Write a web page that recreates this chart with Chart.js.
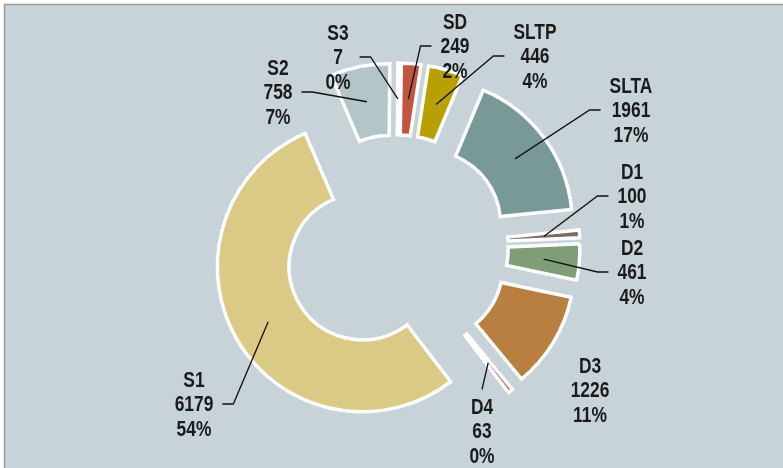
<!DOCTYPE html>
<html>
<head>
<meta charset="utf-8">
<script src="https://cdn.jsdelivr.net/npm/chart.js@4.4.1/dist/chart.umd.min.js"></script>
<style>
    html, body { margin: 0; padding: 0; background: #fff; }
    #wrap { width: 783px; height: 468px; position: relative; }
</style>
</head>
<body>
<div id="wrap"><canvas id="donut"></canvas></div>
<script>
(function () {
    "use strict";

    // data
    const categories = ["S1", "S2", "S3", "SD", "SLTP", "SLTA", "D1", "D2", "D3", "D4"];
    const counts = [6179, 758, 7, 249, 446, 1961, 100, 461, 1226, 63];
    const shares = ["54%", "7%", "0%", "2%", "4%", "17%", "1%", "4%", "11%", "0%"];

    const colors = ["#dbc986", "#b3c5c8", "#b3c5c8", "#c0563f", "#b8a000",
                    "#799999", "#7b6b63", "#7f9e78", "#b97f40", "#d86565"];

    // label block centre (middle line) and where the leader leaves it
    const labelSpots = [
        [194, 405, "right"], [278, 93, "right"], [338, 58, "right"], [455, 47, "left"],
        [535, 57, "left"], [631, 111, "left"], [632, 197, "left"], [632, 273, "left"],
        [590, 391, null], [482, 432, "top"]
    ];

    const EXPLODE = 39;
    const LINE = 24.5;
    const FONT = "bold 22px 'Liberation Sans', Arial, sans-serif";
    const NARROW = 0.79; // squeeze to look like a narrow face
    const PANEL = "#c7d2d9";

    const panelPlugin = {
        id: "panel",
        beforeDraw(chart) {
            const ctx = chart.ctx;
            ctx.save();
            ctx.fillStyle = "#fff";
            ctx.fillRect(0, 0, chart.width, chart.height);
            ctx.fillStyle = PANEL;
            ctx.fillRect(4, 4, chart.width, chart.height);
            ctx.strokeStyle = "#9c9c9c";
            ctx.lineWidth = 1.5;
            ctx.beginPath();
            ctx.moveTo(4.5, chart.height);
            ctx.lineTo(4.5, 4.5);
            ctx.lineTo(chart.width, 4.5);
            ctx.stroke();
            ctx.restore();
        }
    };

    // push every slice out along its own mid angle
    const explodePlugin = {
        id: "explode",
        afterUpdate(chart) {
            chart.getDatasetMeta(0).data.forEach(function (arc) {
                const mid = (arc.startAngle + arc.endAngle) / 2;
                arc.x += Math.cos(mid) * EXPLODE;
                arc.y += Math.sin(mid) * EXPLODE;
            });
        }
    };

    function narrowText(ctx, t, x, y) {
        ctx.save();
        ctx.translate(x, y);
        ctx.scale(NARROW, 1);
        ctx.fillText(t, 0, 0);
        ctx.restore();
    }

    const labelPlugin = {
        id: "sliceLabels",
        afterDatasetsDraw(chart) {
            const ctx = chart.ctx;
            const arcs = chart.getDatasetMeta(0).data;
            ctx.save();
            ctx.font = FONT;
            ctx.textAlign = "center";
            ctx.textBaseline = "middle";
            arcs.forEach(function (arc, i) {
                const spot = labelSpots[i];
                const lx = spot[0], ly = spot[1], side = spot[2];
                const lines = [categories[i], String(counts[i]), shares[i]];
                ctx.fillStyle = "#1a1a1a";
                lines.forEach(function (t, k) {
                    narrowText(ctx, t, lx, ly + (k - 1) * LINE);
                });
                if (!side) return;
                const half = NARROW * Math.max.apply(null, lines.map(function (t) {
                    return ctx.measureText(t).width;
                })) / 2;
                const p = arc.tooltipPosition();
                ctx.strokeStyle = "#111";
                ctx.lineWidth = 1.3;
                ctx.beginPath();
                if (side === "top") {
                    ctx.moveTo(lx, ly - LINE - 18);
                } else {
                    const dir = side === "right" ? 1 : -1;
                    const x0 = lx + dir * (half + 9);
                    ctx.moveTo(x0, ly - 1);
                    ctx.lineTo(x0 + dir * 11, ly - 1);
                }
                ctx.lineTo(p.x, p.y);
                ctx.stroke();
            });
            ctx.restore();
        }
    };

    new Chart(document.getElementById("donut"), {
        type: "doughnut",
        data: {
            labels: categories,
            datasets: [{
                data: counts,
                backgroundColor: colors,
                borderColor: "#ffffff",
                borderWidth: 3.5,
                borderJoinStyle: "miter"
            }]
        },
        options: {
            responsive: true,
            maintainAspectRatio: false,
            animation: false,
            events: [],
            rotation: 142.5,
            radius: 145,
            cutout: "50.5%",
            layout: { padding: { left: 9, right: 0, top: 26, bottom: 0 } },
            plugins: {
                legend: { display: false },
                tooltip: { enabled: false }
            }
        },
        plugins: [panelPlugin, explodePlugin, labelPlugin]
    });
})();
</script>
</body>
</html>
